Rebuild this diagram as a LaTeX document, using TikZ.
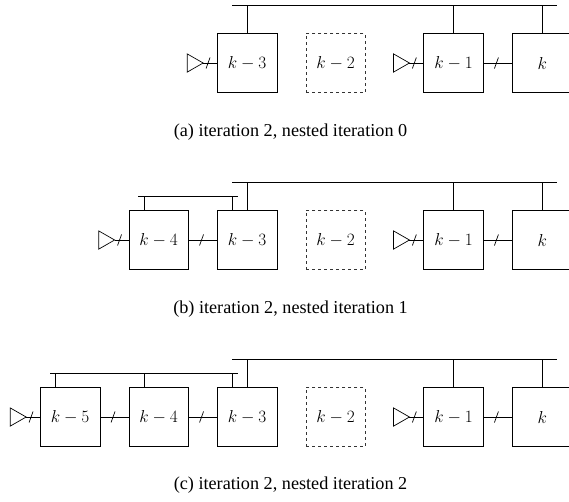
\documentclass[tikz,border=0pt]{standalone}
\usepackage{fontspec}
\newfontfamily\capfont{Liberation Serif}
\usetikzlibrary{decorations.markings}
\tikzset{
  blk/.style={draw, line width=0.7pt, minimum width=59.4pt, minimum height=58.6pt, inner sep=0pt},
  ghost/.style={blk, dash pattern=on 3pt off 3pt, draw=black!80},
  wire/.style={line width=0.7pt},
  slashed/.style={wire, postaction={decorate}, decoration={markings, mark=at position #1 with {\draw[line width=0.7pt] (-2pt,-5.5pt)--(2pt,5.5pt);}}},
  captxt/.style={font=\capfont\fontsize{18.2}{22}\selectfont}
}
\begin{document}
\begin{tikzpicture}[x=1pt,y=-1pt,font=\fontsize{18}{22}\selectfont]
\useasboundingbox (0,0) rectangle (569,501);
\clip (0,0) rectangle (569,501);
% ---------- panel (a) ----------
\node[blk]   (a3) at (247.2,63) {$k-3$};
\node[ghost] (a2) at (335.7,63) {$k-2$};
\node[blk]   (a1) at (453.5,63) {$k-1$};
\node[blk]   (a0) at (542.2,63) {$k$};
\coordinate (abL) at (232.3,5);
\coordinate (abR) at (556.7,5);
\draw[wire] (abL) -- (abR);
\draw[wire] (a3.north) -- (a3.north |- abL);
\draw[wire] (a1.north) -- (a1.north |- abL);
\draw[wire] (a0.north) -- (a0.north |- abL);
\coordinate (at3) at ([xshift=-14pt]a3.west);
\draw[wire] (at3) -- ++(-16pt,9.15pt) -- ++(0,-18.3pt) -- cycle;
\draw[slashed=0.35] (at3) -- (a3.west);
\coordinate (at1) at ([xshift=-14pt]a1.west);
\draw[wire] (at1) -- ++(-16pt,9.15pt) -- ++(0,-18.3pt) -- cycle;
\draw[slashed=0.35] (at1) -- (a1.west);
\draw[slashed=0.45] (a1.east) -- (a0.west);
\node[captxt] (capa) at (290.5,132) {(a) iteration 2, nested iteration 0};
% ---------- panel (b) ----------
\node[blk]   (b4) at (158.7,240) {$k-4$};
\node[blk]   (b3) at (247.2,240) {$k-3$};
\node[ghost] (b2) at (335.7,240) {$k-2$};
\node[blk]   (b1) at (453.5,240) {$k-1$};
\node[blk]   (b0) at (542.2,240) {$k$};
\coordinate (bbL) at (232.3,182);
\coordinate (bbR) at (556.7,182);
\draw[wire] (bbL) -- (bbR);
\draw[wire] (b3.north) -- (b3.north |- bbL);
\draw[wire] (b1.north) -- (b1.north |- bbL);
\draw[wire] (b0.north) -- (b0.north |- bbL);
\coordinate (bsL) at (138.3,196);
\coordinate (bsR) at (238.3,196);
\draw[wire] (bsL) -- (bsR);
\draw[wire] ([xshift=-14.85pt]b4.north) -- ([xshift=-14.85pt]b4.north |- bsL);
\draw[wire] ([xshift=-14.85pt]b3.north) -- ([xshift=-14.85pt]b3.north |- bsL);
\coordinate (bt4) at ([xshift=-14pt]b4.west);
\draw[wire] (bt4) -- ++(-16pt,9.15pt) -- ++(0,-18.3pt) -- cycle;
\draw[slashed=0.35] (bt4) -- (b4.west);
\draw[slashed=0.45] (b4.east) -- (b3.west);
\coordinate (bt1) at ([xshift=-14pt]b1.west);
\draw[wire] (bt1) -- ++(-16pt,9.15pt) -- ++(0,-18.3pt) -- cycle;
\draw[slashed=0.35] (bt1) -- (b1.west);
\draw[slashed=0.45] (b1.east) -- (b0.west);
\node[captxt] (capb) at (290.5,309) {(b) iteration 2, nested iteration 1};
% ---------- panel (c) ----------
\node[blk]   (c5) at (70.2,417) {$k-5$};
\node[blk]   (c4) at (158.7,417) {$k-4$};
\node[blk]   (c3) at (247.2,417) {$k-3$};
\node[ghost] (c2) at (335.7,417) {$k-2$};
\node[blk]   (c1) at (453.5,417) {$k-1$};
\node[blk]   (c0) at (542.2,417) {$k$};
\coordinate (cbL) at (232.3,359);
\coordinate (cbR) at (556.7,359);
\draw[wire] (cbL) -- (cbR);
\draw[wire] (c3.north) -- (c3.north |- cbL);
\draw[wire] (c1.north) -- (c1.north |- cbL);
\draw[wire] (c0.north) -- (c0.north |- cbL);
\coordinate (csL) at (50,373);
\coordinate (csR) at (238.3,373);
\draw[wire] (csL) -- (csR);
\draw[wire] ([xshift=-14.85pt]c5.north) -- ([xshift=-14.85pt]c5.north |- csL);
\draw[wire] ([xshift=-14.85pt]c4.north) -- ([xshift=-14.85pt]c4.north |- csL);
\draw[wire] ([xshift=-14.85pt]c3.north) -- ([xshift=-14.85pt]c3.north |- csL);
\coordinate (ct5) at ([xshift=-14pt]c5.west);
\draw[wire] (ct5) -- ++(-16pt,9.15pt) -- ++(0,-18.3pt) -- cycle;
\draw[slashed=0.35] (ct5) -- (c5.west);
\draw[slashed=0.45] (c5.east) -- (c4.west);
\draw[slashed=0.45] (c4.east) -- (c3.west);
\coordinate (ct1) at ([xshift=-14pt]c1.west);
\draw[wire] (ct1) -- ++(-16pt,9.15pt) -- ++(0,-18.3pt) -- cycle;
\draw[slashed=0.35] (ct1) -- (c1.west);
\draw[slashed=0.45] (c1.east) -- (c0.west);
\node[captxt] (capc) at (290.5,485) {(c) iteration 2, nested iteration 2};
\end{tikzpicture}
\end{document}
